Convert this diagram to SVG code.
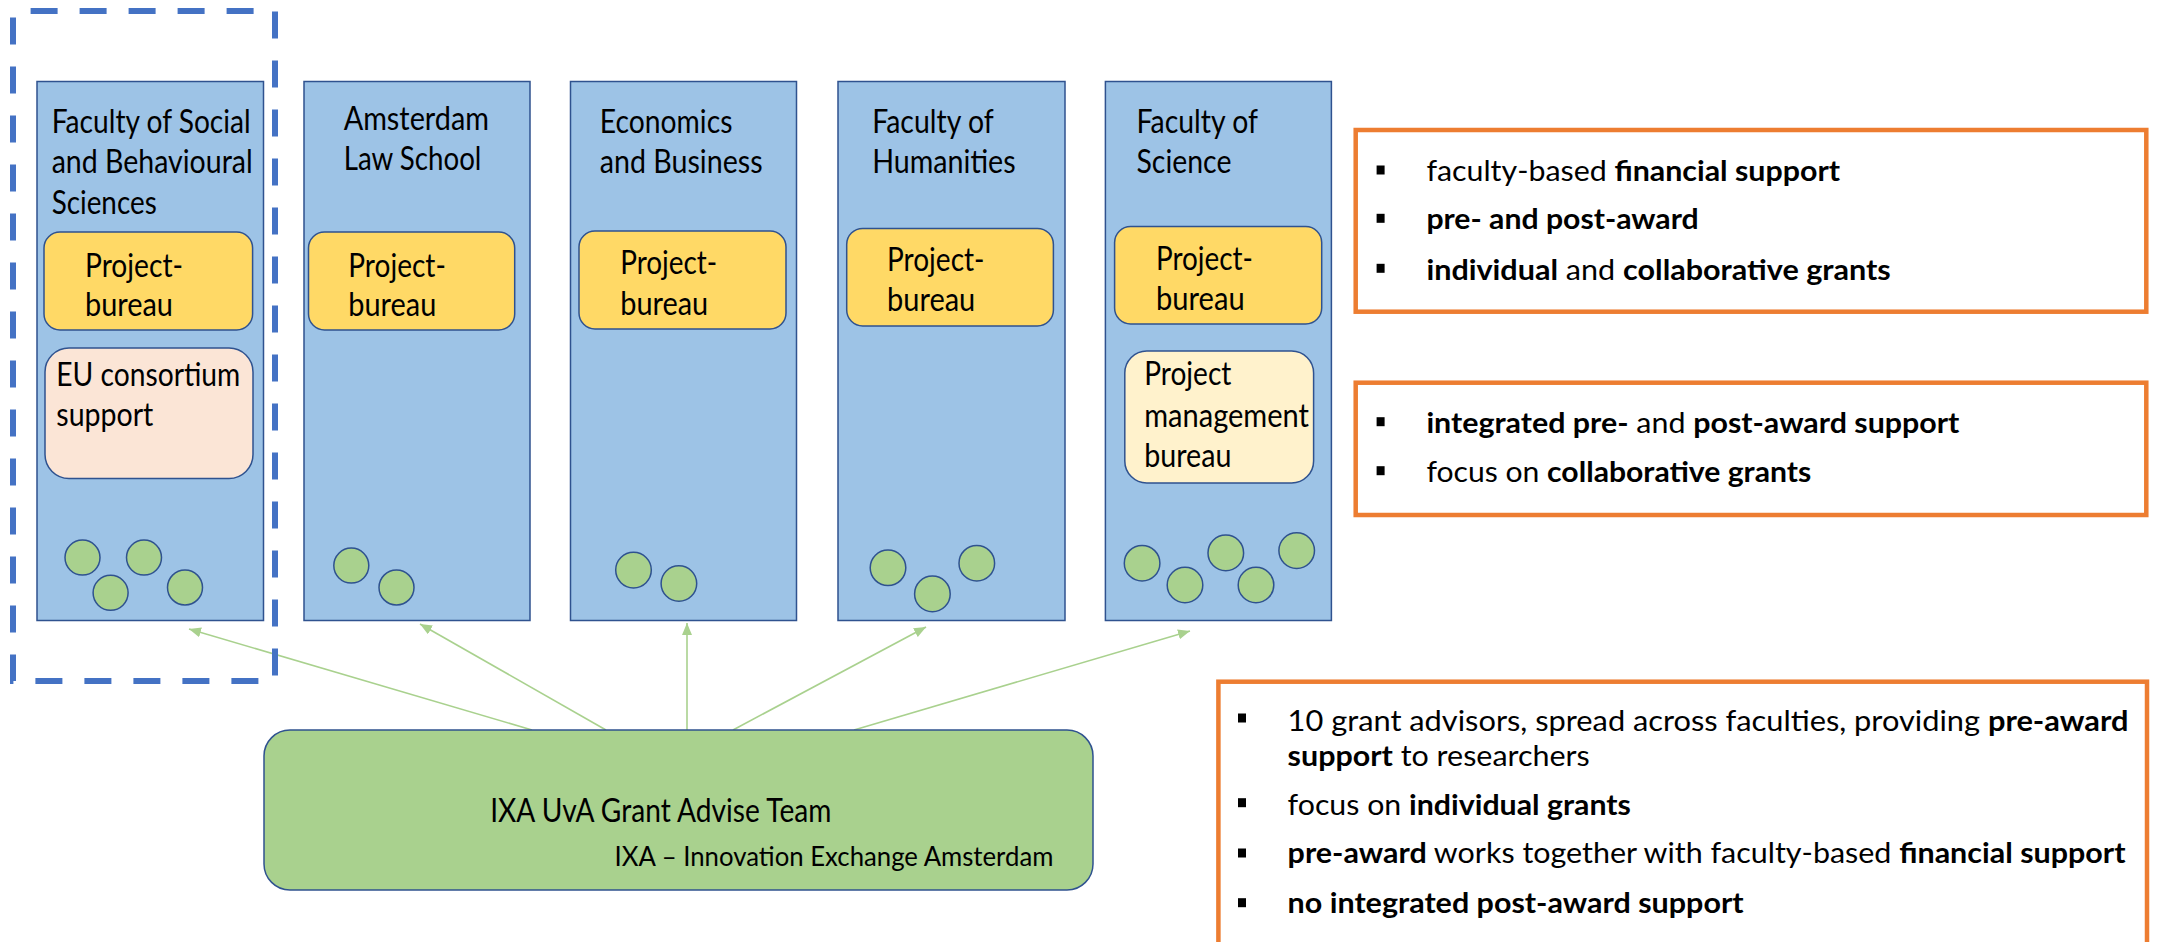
<svg xmlns="http://www.w3.org/2000/svg" width="2161" height="942" viewBox="0 0 2161 942">
<style>
.col{fill:#9DC3E6;stroke:#2F528F;stroke-width:1.5}
.pb{fill:#FFD966;stroke:#2F528F;stroke-width:1.5}
.eu{fill:#FBE5D6;stroke:#2F528F;stroke-width:1.5}
.pm{fill:#FFF2CC;stroke:#2F528F;stroke-width:1.5}
.dot{fill:#A9D18E;stroke:#2F528F;stroke-width:1.5}
.t{font-family:Lato,"Open Sans",sans-serif;font-size:32px;fill:#000}
.s{font-size:29px}
.b{font-weight:bold}
.ob{fill:none;stroke:#ED7D31;stroke-width:4.5}
.bul{fill:#000}
.conn{stroke:#A9D18E;stroke-width:1.6;fill:none;marker-end:url(#ah)}
</style>
<defs>
<marker id="ah" markerUnits="userSpaceOnUse" markerWidth="14" markerHeight="10" refX="12" refY="5" orient="auto">
<path d="M0,0 L12,5 L0,10 z" fill="#A9D18E"/>
</marker>
</defs>
<rect width="2161" height="942" fill="#fff"/>

<g id="connectors">
<line class="conn" x1="532" y1="730" x2="189" y2="629"/>
<line class="conn" x1="606" y1="730" x2="420" y2="624"/>
<line class="conn" x1="687" y1="730" x2="687" y2="623"/>
<line class="conn" x1="733" y1="730" x2="926" y2="627"/>
<line class="conn" x1="854" y1="730" x2="1190" y2="631"/>
</g>

<g id="fsbs">
<rect class="col" x="37" y="81.5" width="226.5" height="539"/>
<text class="t" x="51.7" y="133" textLength="199" lengthAdjust="spacingAndGlyphs">Faculty of Social</text>
<text class="t" x="51.7" y="173" textLength="201" lengthAdjust="spacingAndGlyphs">and Behavioural</text>
<text class="t" x="51.7" y="214" textLength="105" lengthAdjust="spacingAndGlyphs">Sciences</text>
<g id="fsbs-pb">
<rect class="pb" x="44" y="232" width="208.6" height="98" rx="16"/>
<text class="t" x="85" y="277" textLength="98" lengthAdjust="spacingAndGlyphs">Project-</text>
<text class="t" x="85" y="316" textLength="88" lengthAdjust="spacingAndGlyphs">bureau</text>
</g>
<g id="fsbs-eu">
<rect class="eu" x="45" y="348" width="208" height="130.5" rx="24"/>
<text class="t" x="56.3" y="386" textLength="184" lengthAdjust="spacingAndGlyphs">EU consortium</text>
<text class="t" x="56.3" y="426" textLength="97" lengthAdjust="spacingAndGlyphs">support</text>
</g>
<circle class="dot" cx="82.5" cy="557.6" r="17.5"/>
<circle class="dot" cx="144" cy="557.6" r="17.5"/>
<circle class="dot" cx="110.6" cy="592.8" r="17.5"/>
<circle class="dot" cx="185" cy="587.5" r="17.5"/>
</g>

<g id="highlight">
<rect x="13" y="11" width="262" height="670" fill="none" stroke="#4472C4" stroke-width="6" stroke-dasharray="27 22" stroke-dashoffset="31.4"/>
</g>

<g id="law">
<rect class="col" x="304" y="81.5" width="226" height="539"/>
<text class="t" x="343.7" y="129.5" textLength="145.3" lengthAdjust="spacingAndGlyphs">Amsterdam</text>
<text class="t" x="343.7" y="169.6" textLength="137.7" lengthAdjust="spacingAndGlyphs">Law School</text>
<g id="law-pb">
<rect class="pb" x="308.5" y="232" width="206.2" height="98" rx="16"/>
<text class="t" x="348.3" y="277" textLength="97.5" lengthAdjust="spacingAndGlyphs">Project-</text>
<text class="t" x="348.3" y="316" textLength="88" lengthAdjust="spacingAndGlyphs">bureau</text>
</g>
<circle class="dot" cx="351.3" cy="565.6" r="17.5"/>
<circle class="dot" cx="396.5" cy="587.5" r="17.5"/>
</g>

<g id="econ">
<rect class="col" x="570.5" y="81.5" width="226" height="539"/>
<text class="t" x="599.8" y="132.7" textLength="132.6" lengthAdjust="spacingAndGlyphs">Economics</text>
<text class="t" x="599.8" y="172.9" textLength="162.8" lengthAdjust="spacingAndGlyphs">and Business</text>
<g id="econ-pb">
<rect class="pb" x="579" y="231" width="207" height="98" rx="16"/>
<text class="t" x="620.2" y="274.3" textLength="97" lengthAdjust="spacingAndGlyphs">Project-</text>
<text class="t" x="620.2" y="314.5" textLength="88" lengthAdjust="spacingAndGlyphs">bureau</text>
</g>
<circle class="dot" cx="633.5" cy="570.1" r="17.8"/>
<circle class="dot" cx="678.9" cy="583.5" r="17.8"/>
</g>

<g id="hum">
<rect class="col" x="838" y="81.5" width="227" height="539"/>
<text class="t" x="872.2" y="132.7" textLength="121.5" lengthAdjust="spacingAndGlyphs">Faculty of</text>
<text class="t" x="872.2" y="172.9" textLength="143.4" lengthAdjust="spacingAndGlyphs">Humanities</text>
<g id="hum-pb">
<rect class="pb" x="846.7" y="228.4" width="206.7" height="97.6" rx="16"/>
<text class="t" x="887" y="270.5" textLength="97.5" lengthAdjust="spacingAndGlyphs">Project-</text>
<text class="t" x="887" y="310.7" textLength="88.3" lengthAdjust="spacingAndGlyphs">bureau</text>
</g>
<circle class="dot" cx="888" cy="567.8" r="17.8"/>
<circle class="dot" cx="932.4" cy="593.9" r="17.8"/>
<circle class="dot" cx="976.8" cy="563.2" r="17.8"/>
</g>

<g id="sci">
<rect class="col" x="1105.4" y="81.5" width="226" height="539"/>
<text class="t" x="1136.5" y="132.7" textLength="121.5" lengthAdjust="spacingAndGlyphs">Faculty of</text>
<text class="t" x="1136.5" y="172.9" textLength="94.9" lengthAdjust="spacingAndGlyphs">Science</text>
<g id="sci-pb">
<rect class="pb" x="1114.6" y="226.5" width="207.1" height="97.5" rx="16"/>
<text class="t" x="1156" y="269.7" textLength="96.9" lengthAdjust="spacingAndGlyphs">Project-</text>
<text class="t" x="1156" y="309.5" textLength="88.7" lengthAdjust="spacingAndGlyphs">bureau</text>
</g>
<g id="sci-pm">
<rect class="pm" x="1124.8" y="351" width="188.8" height="132" rx="22"/>
<text class="t" x="1144.2" y="385.3" textLength="87.2" lengthAdjust="spacingAndGlyphs">Project</text>
<text class="t" x="1144.2" y="426.6" textLength="164.8" lengthAdjust="spacingAndGlyphs">management</text>
<text class="t" x="1144.2" y="466.8" textLength="87.2" lengthAdjust="spacingAndGlyphs">bureau</text>
</g>
<circle class="dot" cx="1142.1" cy="563.2" r="17.8"/>
<circle class="dot" cx="1185" cy="585" r="17.8"/>
<circle class="dot" cx="1225.8" cy="552.9" r="17.8"/>
<circle class="dot" cx="1256" cy="585" r="17.8"/>
<circle class="dot" cx="1296.7" cy="550.6" r="17.8"/>
</g>

<g id="ixa">
<rect x="264" y="730" width="829" height="160" rx="26" fill="#A9D18E" stroke="#2F528F" stroke-width="1.5"/>
<text class="t" x="490.2" y="821.7" textLength="341.2" lengthAdjust="spacingAndGlyphs">IXA UvA Grant Advise Team</text>
<text class="t" x="614.6" y="866" style="font-size:27px" textLength="438.8" lengthAdjust="spacingAndGlyphs">IXA – Innovation Exchange Amsterdam</text>
</g>

<g id="note-faculty">
<rect class="ob" x="1355.7" y="130" width="790.6" height="181.7"/>
<rect class="bul" x="1376.6" y="165.5" width="8" height="9"/>
<rect class="bul" x="1376.6" y="213.8" width="8" height="9"/>
<rect class="bul" x="1376.6" y="263.8" width="8" height="9"/>
<text class="t s" x="1426.4" y="181" textLength="413.6" lengthAdjust="spacingAndGlyphs">faculty-based <tspan class="b">financial support</tspan></text>
<text class="t s b" x="1426.4" y="229" textLength="272.3" lengthAdjust="spacingAndGlyphs">pre- and post-award</text>
<text class="t s" x="1426.4" y="280" textLength="464.4" lengthAdjust="spacingAndGlyphs"><tspan class="b">individual</tspan> and <tspan class="b">collaborative grants</tspan></text>
</g>

<g id="note-science">
<rect class="ob" x="1355.7" y="382.7" width="790.6" height="132.3"/>
<rect class="bul" x="1376.6" y="417.2" width="8" height="9"/>
<rect class="bul" x="1376.6" y="466.2" width="8" height="9"/>
<text class="t s" x="1426.4" y="433" textLength="533" lengthAdjust="spacingAndGlyphs"><tspan class="b">integrated pre-</tspan> and <tspan class="b">post-award support</tspan></text>
<text class="t s" x="1426.4" y="482" textLength="384.8" lengthAdjust="spacingAndGlyphs">focus on <tspan class="b">collaborative grants</tspan></text>
</g>

<g id="note-ixa">
<rect class="ob" x="1218.4" y="681.7" width="928.6" height="290"/>
<rect class="bul" x="1238" y="713.5" width="8" height="9"/>
<rect class="bul" x="1238" y="798.2" width="8" height="9"/>
<rect class="bul" x="1238" y="848.5" width="8" height="9"/>
<rect class="bul" x="1238" y="898.2" width="8" height="9"/>
<text class="t s" x="1287.6" y="730.7" textLength="840.9" lengthAdjust="spacingAndGlyphs">10 grant advisors, spread across faculties, providing <tspan class="b">pre-award</tspan></text>
<text class="t s" x="1287.6" y="766" textLength="302.2" lengthAdjust="spacingAndGlyphs"><tspan class="b">support</tspan> to researchers</text>
<text class="t s" x="1287.6" y="815" textLength="343.3" lengthAdjust="spacingAndGlyphs">focus on <tspan class="b">individual grants</tspan></text>
<text class="t s" x="1287.6" y="863.3" textLength="837.9" lengthAdjust="spacingAndGlyphs"><tspan class="b">pre-award</tspan> works together with faculty-based <tspan class="b">financial support</tspan></text>
<text class="t s b" x="1287.6" y="913.3" textLength="456" lengthAdjust="spacingAndGlyphs">no integrated post-award support</text>
</g>
</svg>
